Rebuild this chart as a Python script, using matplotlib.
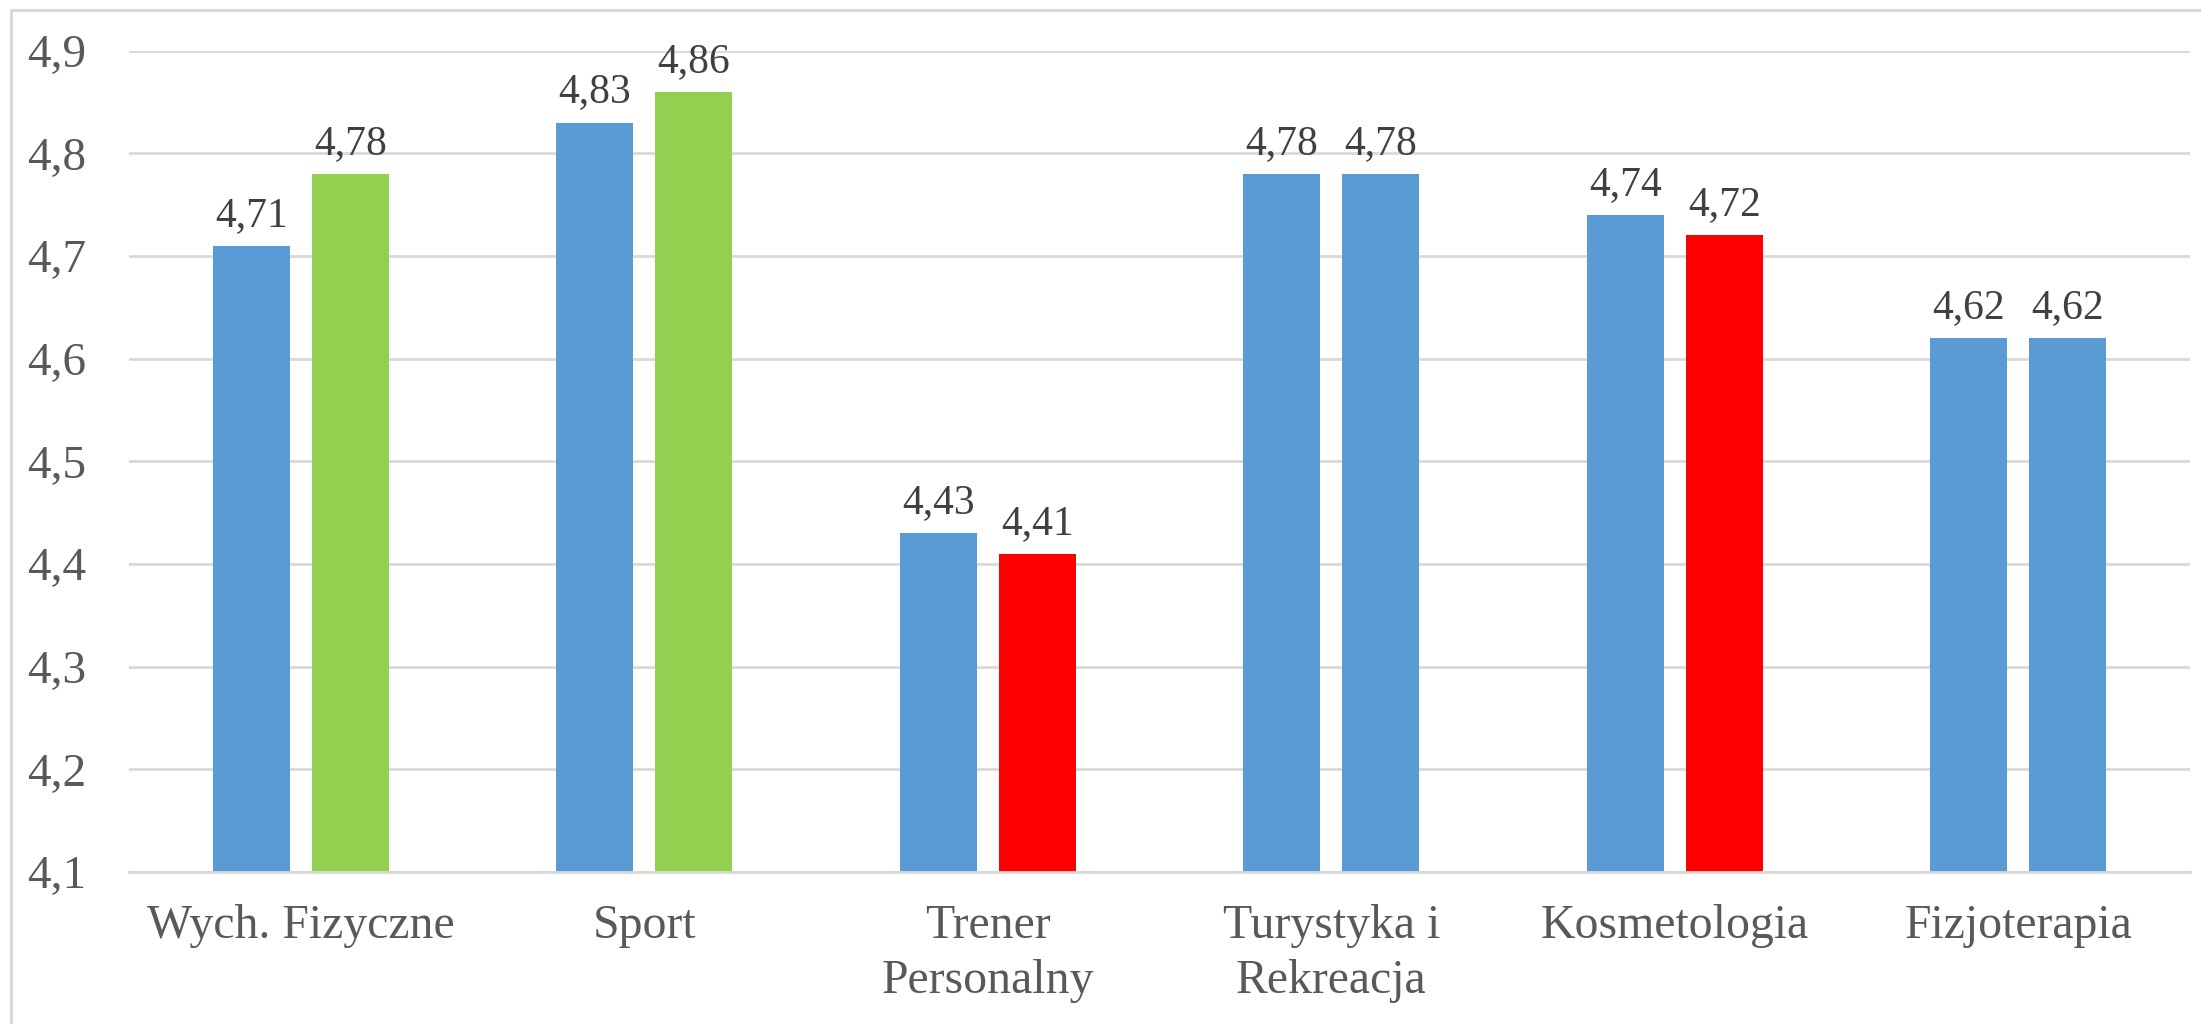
import matplotlib
matplotlib.use("Agg")
import matplotlib.pyplot as plt
import numpy as np
from matplotlib.patches import Rectangle

# data
categories = ["Wych. Fizyczne", "Sport", "Trener\nPersonalny",
              "Turystyka i\nRekreacja", "Kosmetologia", "Fizjoterapia"]
series_a = [4.71, 4.83, 4.43, 4.78, 4.74, 4.62]
series_b = [4.78, 4.86, 4.41, 4.78, 4.72, 4.62]
colors_b = ["#92D050", "#92D050", "#FF0000", "#5B9BD5", "#FF0000", "#5B9BD5"]
yticks = [4.1, 4.2, 4.3, 4.4, 4.5, 4.6, 4.7, 4.8, 4.9]

plt.rcParams["font.family"] = ["Liberation Serif", "DejaVu Serif"]

W, H = 2201, 1024
fig = plt.figure(figsize=(W / 100, H / 100), dpi=100)

# light grey frame around the chart (only left and top edges fall inside the image)
fig.patches.append(Rectangle((11 / W, -0.05), 1.1, 1 - 10 / H + 0.05,
                             transform=fig.transFigure, fill=False,
                             edgecolor="#D9D9D9", linewidth=2.2))

left, right, top, bottom = 129, 2190, 50.7, 872
ax = fig.add_axes([left / W, 1 - bottom / H, (right - left) / W, (bottom - top) / H])

x = np.arange(len(categories))
w = 0.225
off = 0.144
bars_a = ax.bar(x - off, series_a, width=w, color="#5B9BD5", zorder=2)
bars_b = ax.bar(x + off, series_b, width=w, color=colors_b, zorder=2)

fmt = lambda v: "{:.2f}".format(v).replace(".", ",")
ax.bar_label(bars_a, labels=[fmt(v) for v in series_a], padding=8,
             fontsize=30, color="#404040")
ax.bar_label(bars_b, labels=[fmt(v) for v in series_b], padding=8,
             fontsize=30, color="#404040")

ax.set_ylim(4.1, 4.9)
ax.set_xlim(-0.5, len(categories) - 0.5)
ax.set_yticks(yticks)
ax.set_yticklabels([("%.1f" % t).replace(".", ",") for t in yticks])
ax.set_xticks(x)
ax.set_xticklabels(categories, linespacing=1.33)
ax.tick_params(axis="y", length=0, pad=31, labelsize=34, labelcolor="#595959")
ax.tick_params(axis="x", length=0, pad=23, labelsize=34.4, labelcolor="#595959")
ax.yaxis.grid(True, color="#D9D9D9", linewidth=2, zorder=0)
ax.set_axisbelow(True)
for s in ["top", "right", "left"]:
    ax.spines[s].set_visible(False)
ax.spines["bottom"].set_color("#D9D9D9")
ax.spines["bottom"].set_linewidth(2)

fig.savefig("out.png", dpi=100)
